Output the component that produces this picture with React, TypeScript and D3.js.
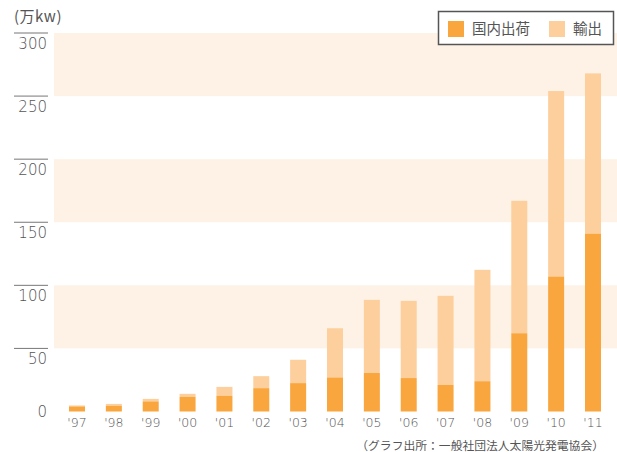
import React, { useRef, useEffect } from 'react';
import * as d3 from 'd3';

// 年度ラベル
const years = ["'97", "'98", "'99", "'00", "'01", "'02", "'03", "'04", "'05", "'06", "'07", "'08", "'09", "'10", "'11"];
// 国内出荷 (万kw)
const domestic = [4, 4.5, 8, 11.5, 12.5, 18.5, 22.5, 27, 30.5, 26.5, 21, 24, 62, 107, 141];
// 輸出 (万kw)
const exportVals = [0.8, 1.5, 2, 2.5, 7, 9.5, 18.5, 39, 58, 61.2, 70.7, 88.3, 105, 147, 127];
const yTicks = [300, 250, 200, 150, 100, 50];
const bands = [[250, 300], [150, 200], [50, 100]];
const legendItems = ['国内出荷', '輸出'];

const COLOR_DOM = '#f9a63e';
const COLOR_EXP = '#fdcf9c';
const COLOR_BAND = '#fef2e6';
const TEXT = '#555';
const FONT = '"DejaVu Sans", sans-serif';
const JP_FONT = '"Noto Sans CJK JP", sans-serif';

const App = () => {
    const svgRef = useRef<SVGSVGElement>(null);
    const width = 617;
    const height = 452;

    useEffect(() => {
        const svg = d3.select(svgRef.current)
            .attr('width', width)
            .attr('height', height);

        svg.selectAll('*').remove();

        const x = d3.scalePoint<string>()
            .domain(years)
            .range([77, 593]);
        const barW = 16;

        const y = d3.scaleLinear()
            .domain([0, 300])
            .range([411.5, 33]);

        // 背景の帯
        svg.selectAll('.band')
            .data(bands)
            .enter()
            .append('rect')
            .attr('x', 54)
            .attr('width', width - 54)
            .attr('y', d => y(d[1]))
            .attr('height', d => y(d[0]) - y(d[1]))
            .attr('fill', COLOR_BAND);

        // 目盛り線とラベル
        svg.selectAll('.tick-line')
            .data(yTicks)
            .enter()
            .append('line')
            .attr('x1', 14)
            .attr('x2', 48)
            .attr('y1', d => y(d))
            .attr('y2', d => y(d))
            .attr('stroke', '#777')
            .attr('stroke-width', 1);

        svg.selectAll('.tick-label')
            .data([...yTicks, 0])
            .enter()
            .append('text')
            .attr('x', 47)
            .attr('y', d => d === 0 ? y(d) + 5 : y(d) + 15.5)
            .attr('text-anchor', 'end')
            .attr('font-family', FONT)
            .attr('font-weight', 200)
            .attr('font-size', 15)
            .attr('fill', TEXT)
            .text(d => d);

        svg.append('text')
            .attr('x', 14)
            .attr('y', 22)
            .attr('font-family', JP_FONT)
            .attr('font-size', 15)
            .attr('letter-spacing', 0.5)
            .attr('fill', TEXT)
            .text('(万kw)');

        // 積み上げ棒
        const stackData = years.map((yr, i) => ({ year: yr, dom: domestic[i], exp: exportVals[i] }));

        svg.selectAll('.bar-exp')
            .data(stackData)
            .enter()
            .append('rect')
            .attr('x', d => x(d.year)! - barW / 2)
            .attr('width', barW)
            .attr('y', d => y(d.dom + d.exp))
            .attr('height', d => y(d.dom) - y(d.dom + d.exp))
            .attr('fill', COLOR_EXP);

        svg.selectAll('.bar-dom')
            .data(stackData)
            .enter()
            .append('rect')
            .attr('x', d => x(d.year)! - barW / 2)
            .attr('width', barW)
            .attr('y', d => y(d.dom))
            .attr('height', d => y(0) - y(d.dom))
            .attr('fill', COLOR_DOM);

        // x軸ラベル
        svg.selectAll('.x-label')
            .data(years)
            .enter()
            .append('text')
            .attr('x', d => x(d)!)
            .attr('y', 427)
            .attr('text-anchor', 'middle')
            .attr('font-family', FONT)
            .attr('font-weight', 200)
            .attr('font-size', 12.5)
            .attr('fill', TEXT)
            .text(d => d);

        // 凡例
        const legend = svg.append('g');
        legend.append('rect')
            .attr('x', 438.5)
            .attr('y', 11.5)
            .attr('width', 175)
            .attr('height', 33)
            .attr('fill', '#fff')
            .attr('stroke', '#555')
            .attr('stroke-width', 1.5);

        const legendX = [448, 549];
        legendItems.forEach((name, i) => {
            legend.append('rect')
                .attr('x', legendX[i])
                .attr('y', 21)
                .attr('width', 16)
                .attr('height', 16)
                .attr('fill', i === 0 ? COLOR_DOM : COLOR_EXP);
            legend.append('text')
                .attr('x', legendX[i] + 24)
                .attr('y', 34)
                .attr('font-family', JP_FONT)
                .attr('font-size', 14.5)
                .attr('fill', TEXT)
                .text(name);
        });

        // 出所
        svg.append('text')
            .attr('x', 604)
            .attr('y', 450)
            .attr('text-anchor', 'end')
            .attr('font-family', JP_FONT)
            .attr('font-size', 11.8)
            .attr('fill', TEXT)
            .text('（グラフ出所：一般社団法人太陽光発電協会）');

    }, []);

    return (
        <svg ref={svgRef} style={{ position: 'absolute', left: 0, top: 0 }}></svg>
    );
};

export default App;
